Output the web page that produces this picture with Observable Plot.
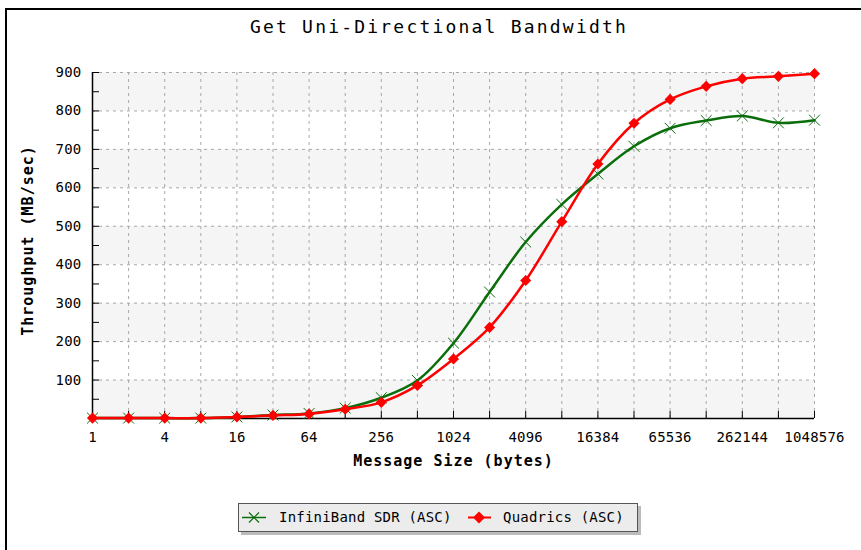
<!DOCTYPE html>
<html>
<head>
<meta charset="utf-8">
<script src="https://cdn.jsdelivr.net/npm/d3@7"></script>
<script src="https://cdn.jsdelivr.net/npm/@observablehq/plot@0.6"></script>
<style>
  html, body { margin: 0; padding: 0; background: #fff; overflow: hidden; }
  #wrap { position: relative; width: 861px; height: 550px; overflow: hidden; font-family: "DejaVu Sans Mono", monospace; }
  #frame { position: absolute; left: 5px; top: 8px; width: 900px; height: 600px; border-left: 2px solid #000; border-top: 2px solid #000; }
  #title { position: absolute; left: 0; width: 878px; top: 16px; text-align: center; font-size: 18px; letter-spacing: 2.2px; color: #000; }
  #chart { position: absolute; left: 0; top: 0; }
  #legend { position: absolute; left: 238px; top: 503px; width: 398px; height: 27px; background: #ececec; border: 1px solid #555; box-shadow: 3px 3px 0 #bbb; font-size: 14px; color: #000; }
  .item { position: absolute; top: 0; left: 0; height: 27px; line-height: 27px; letter-spacing: 0.2px; }
  .item svg { position: absolute; top: 0; }
  .item span { position: absolute; top: 0; white-space: nowrap; }
</style>
</head>
<body>
<div id="wrap">
  <div id="frame"></div>
  <div id="chart"></div>
  <div id="title"></div>
  <div id="legend"></div>
</div>
<script>
const titleText = "Get Uni-Directional Bandwidth";
const xLabel = "Message Size (bytes)";
const yLabel = "Throughput (MB/sec)";
const seriesNames = ["InfiniBand SDR (ASC)", "Quadrics (ASC)"];
const seriesColors = ["#0a6e0a", "#ff0000"];

const sizes = [1, 2, 4, 8, 16, 32, 64, 128, 256, 512, 1024, 2048, 4096, 8192, 16384, 32768, 65536, 131072, 262144, 524288, 1048576];
const infiniband = [1, 1, 1, 1, 4, 9, 13, 27, 54, 99, 196, 329, 459, 557, 636, 708, 755, 775, 787, 769, 776];
const quadrics = [1, 1, 1, 1, 4, 8, 12, 24, 42, 86, 155, 237, 359, 512, 662, 768, 830, 864, 884, 890, 897];

const xTickLabels = [1, 4, 16, 64, 256, 1024, 4096, 16384, 65536, 262144, 1048576];
const yTickLabels = [100, 200, 300, 400, 500, 600, 700, 800, 900];
const yMinorTicks = [50, 100, 150, 200, 250, 300, 350, 400, 450, 500, 550, 600, 650, 700, 750, 800, 850, 900];
const bandStarts = [0, 200, 400, 600, 800];

const ib = sizes.map((s, i) => ({x: s, y: infiniband[i]}));
const qd = sizes.map((s, i) => ({x: s, y: quadrics[i]}));

const W = 861, H = 480;
const mL = 92, mR = 47, mT = 72, mB = 62;
const plotW = W - mL - mR, plotH = H - mT - mB;
const font = "DejaVu Sans Mono, monospace";

const chart = Plot.plot({
  width: W, height: H,
  marginLeft: mL, marginRight: mR, marginTop: mT, marginBottom: mB,
  style: {fontFamily: font, fontSize: "14px", color: "#000", background: "transparent"},
  x: {type: "log", base: 2, domain: [1, 1048576]},
  y: {domain: [0, 900]},
  marks: [
    Plot.rect(bandStarts, {y1: d => d, y2: d => d + 100, fill: "#f5f5f5"}),
    Plot.gridX(sizes, {stroke: "#a8a8a8", strokeOpacity: 1, strokeDasharray: "3,4"}),
    Plot.gridY(yTickLabels, {stroke: "#a8a8a8", strokeOpacity: 1, strokeDasharray: "3,4"}),
    Plot.tickX(sizes, {x: d => d, stroke: "#000", insetTop: plotH - 7}),
    Plot.tickY(yMinorTicks, {y: d => d, stroke: "#000", insetRight: plotW - 7}),
    Plot.ruleY([0], {stroke: "#000", strokeWidth: 1.5}),
    Plot.ruleX([1], {stroke: "#000", strokeWidth: 1.5}),
    Plot.axisX(xTickLabels, {tickSize: 0, tickPadding: 14, tickFormat: d => String(d), label: null, fontSize: 14}),
    Plot.axisY(yTickLabels, {tickSize: 0, tickPadding: 11, tickFormat: d => String(d), label: null, fontSize: 14}),
    Plot.text([xLabel], {frameAnchor: "bottom", dy: 43, textAnchor: "middle", lineAnchor: "middle", text: d => d, fontWeight: "bold", fontSize: 15, fill: "#000"}),
    Plot.text([yLabel], {frameAnchor: "left", dx: -64, dy: -5, rotate: -90, textAnchor: "middle", lineAnchor: "middle", text: d => d, fontWeight: "bold", fontSize: 15, fill: "#000"}),
    Plot.line(ib, {x: "x", y: "y", stroke: seriesColors[0], strokeWidth: 2.5, curve: "catmull-rom"}),
    Plot.dot(ib, {x: "x", y: "y", symbol: "times", r: 5, stroke: seriesColors[0], strokeWidth: 1}),
    Plot.line(qd, {x: "x", y: "y", stroke: seriesColors[1], strokeWidth: 2.5, curve: "catmull-rom"}),
    Plot.dot(qd, {x: "x", y: "y", symbol: "diamond2", r: 5, fill: seriesColors[1], stroke: "none"})
  ]
});
d3.select(chart).selectAll("text").each(function() {
  const t = this.textContent;
  if (t === xLabel || t === yLabel) this.setAttribute("letter-spacing", "1");
  else this.setAttribute("letter-spacing", "0.2");
});
document.getElementById("chart").appendChild(chart);
document.getElementById("title").textContent = titleText;

// Legend
const legend = document.getElementById("legend");
const swatchLeft = [2, 227];
const textLeft = [40, 264];
seriesNames.forEach((name, i) => {
  const item = document.createElement("div");
  item.className = "item";
  const c = seriesColors[i];
  const sw = i === 0
    ? `<svg width="28" height="27" style="left:${swatchLeft[i]}px"><line x1="1" y1="13.5" x2="25" y2="13.5" stroke="${c}" stroke-width="1.5"/><path d="M8,8.5L18,18.5M18,8.5L8,18.5" stroke="${c}" stroke-width="1.2"/></svg>`
    : `<svg width="28" height="27" style="left:${swatchLeft[i]}px"><line x1="2" y1="13.5" x2="25" y2="13.5" stroke="${c}" stroke-width="2"/><path d="M13,7.5L19,13.5L13,19.5L7,13.5Z" fill="${c}"/></svg>`;
  item.innerHTML = sw + `<span style="left:${textLeft[i]}px">${name}</span>`;
  legend.appendChild(item);
});
</script>
</body>
</html>
